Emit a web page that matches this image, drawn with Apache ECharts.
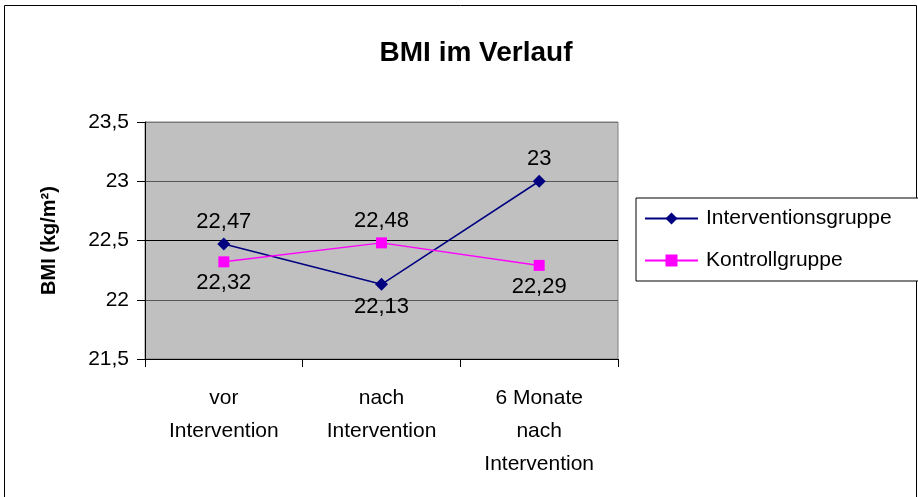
<!DOCTYPE html>
<html><head><meta charset="utf-8">
<script src="https://cdn.jsdelivr.net/npm/echarts@6/dist/echarts.min.js"></script>
<style>html,body{margin:0;padding:0;background:#fff}#c{width:918px;height:497px}</style>
</head><body><div id="c"></div>
<script>
var categories = ['vor\nIntervention', 'nach\nIntervention', '6 Monate\nnach\nIntervention'];
var interventionsgruppe = [22.47, 22.13, 23];
var kontrollgruppe = [22.32, 22.48, 22.29];
var labelPosIntervention = ['top', 'bottom', 'top'];
var labelPosKontroll = ['bottom', 'top', 'bottom'];
var yTicks = [21.5, 22, 22.5, 23, 23.5];

var font = 'Liberation Sans, Arial, sans-serif';
function fmt(v){ return String(v).replace('.', ','); }
function mk(vals, pos){ return vals.map(function(v,i){ return {value: v, label: {position: pos[i]}}; }); }

var chart = echarts.init(document.getElementById('c'));
chart.setOption({
  animation: false,
  backgroundColor: '#fff',
  graphic: [{type: 'rect', shape: {x: 4.5, y: 5.5, width: 912, height: 495}, style: {fill: 'none', stroke: '#000', lineWidth: 1}, silent: true}],
  title: {text: 'BMI im Verlauf', left: 471, top: 34, textAlign: 'center',
    textStyle: {fontFamily: font, fontWeight: 'bold', fontSize: 28, color: '#000'}},
  grid: {left: 145, top: 122, width: 473, height: 237, show: true, backgroundColor: '#c0c0c0', borderColor: '#808080', borderWidth: 1},
  legend: {orient: 'vertical', left: 636, top: 198, itemWidth: 53, itemHeight: 15, itemGap: 21,
    padding: [10, 40, 10, 8], borderColor: '#000', borderWidth: 1, backgroundColor: '#fff',
    textStyle: {fontFamily: font, fontSize: 21, color: '#000', padding: [0, 0, 0, 3]},
    data: ['Interventionsgruppe', 'Kontrollgruppe']},
  xAxis: {type: 'category', data: categories, boundaryGap: true,
    axisLine: {lineStyle: {color: '#000', width: 1}},
    axisTick: {show: true, length: 8, lineStyle: {color: '#000'}},
    axisLabel: {fontFamily: font, fontSize: 21, color: '#000', lineHeight: 33, margin: 23}},
  yAxis: {type: 'value', min: 21.5, max: 23.5, interval: 0.5,
    name: 'BMI (kg/m²)', nameLocation: 'middle', nameGap: 86, nameRotate: 90,
    nameTextStyle: {fontFamily: font, fontWeight: 'bold', fontSize: 20, color: '#000'},
    axisLine: {show: true, lineStyle: {color: '#000', width: 1}},
    axisTick: {show: true, length: 8, inside: false, lineStyle: {color: '#000'}},
    axisLabel: {fontFamily: font, fontSize: 21, color: '#000', margin: 16, formatter: function(v){ return fmt(v); }},
    splitLine: {show: true, lineStyle: {color: ['#666', '#555', '#000', '#555', '#777'], width: 1}}},
  series: [
    {name: 'Interventionsgruppe', type: 'line', data: mk(interventionsgruppe, labelPosIntervention),
      symbol: 'diamond', symbolSize: 13, itemStyle: {color: '#000080'}, lineStyle: {color: '#000080', width: 1.5},
      label: {show: true, fontFamily: font, fontSize: 22, color: '#000', distance: 5, formatter: function(p){ return fmt(p.value); }}},
    {name: 'Kontrollgruppe', type: 'line', data: mk(kontrollgruppe, labelPosKontroll),
      symbol: 'rect', symbolSize: 11, itemStyle: {color: '#ff00ff'}, lineStyle: {color: '#ff00ff', width: 1.5},
      label: {show: true, fontFamily: font, fontSize: 22, color: '#000', distance: 5, formatter: function(p){ return fmt(p.value); }}}
  ]
});
</script></body></html>
